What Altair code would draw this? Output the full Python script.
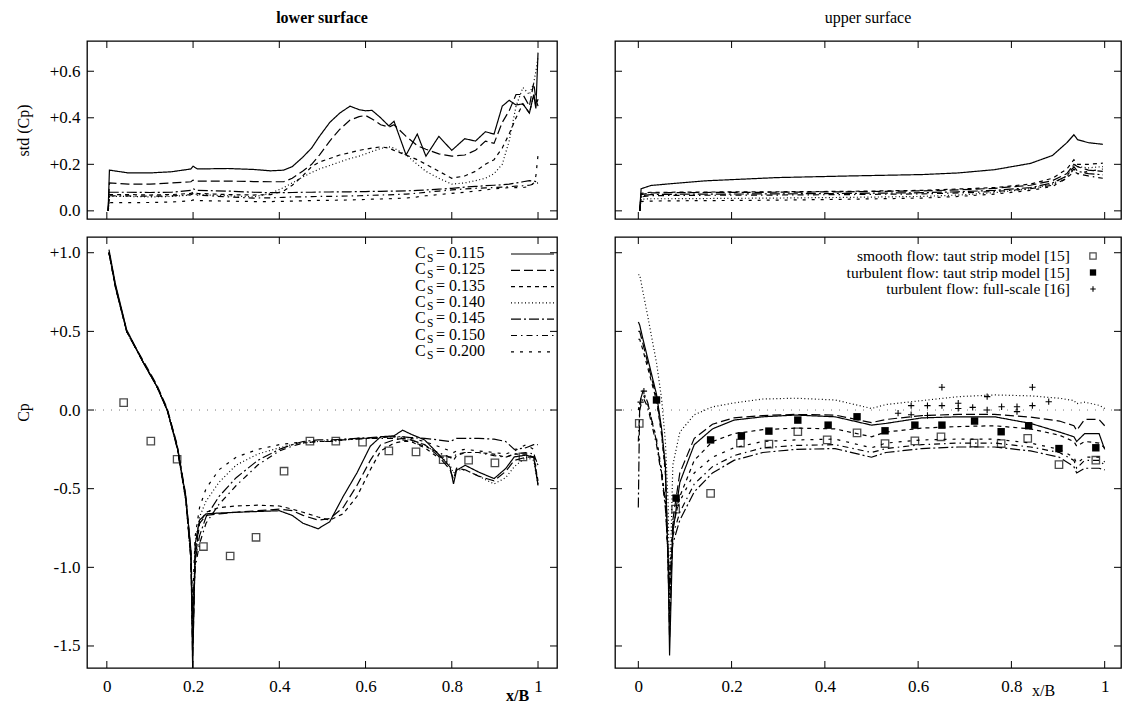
import altair as alt
import pandas as pd

FONT = "Liberation Serif"
SERIES = ["0.115", "0.125", "0.135", "0.140", "0.145", "0.150", "0.200"]
DASHES = [[1, 0], [9, 4], [4, 4], [1, 2.5], [10, 3, 2, 3], [6, 4, 1.5, 4], [3, 6]]

# ---------------- lower surface, std(Cp) ----------------
tl_x = [0.003, 0.006, 0.05, 0.1, 0.15, 0.195, 0.2, 0.21, 0.28, 0.34,
        0.38, 0.41, 0.43, 0.454, 0.475, 0.493, 0.517, 0.54, 0.564, 0.585,
        0.6, 0.615, 0.635, 0.654, 0.666, 0.694, 0.72, 0.74, 0.77, 0.8,
        0.83, 0.855, 0.878, 0.898, 0.917, 0.933, 0.949, 0.965, 0.98, 0.99,
        0.995, 1.0]
tl_115 = [0.0, 0.175, 0.163, 0.163, 0.168, 0.18, 0.192, 0.18, 0.182, 0.178,
          0.172, 0.175, 0.19, 0.23, 0.27, 0.32, 0.38, 0.42, 0.45, 0.435,
          0.43, 0.432, 0.40, 0.365, 0.385, 0.24, 0.33, 0.235, 0.32, 0.26,
          0.31, 0.30, 0.34, 0.33, 0.45, 0.475, 0.455, 0.46, 0.42, 0.5,
          0.44, 0.68]
tl_125 = [0.0, 0.12, 0.115, 0.115, 0.12, 0.125, 0.132, 0.128, 0.128, 0.126,
          0.125, 0.125, 0.14, 0.17, 0.2, 0.24, 0.3, 0.35, 0.39, 0.405,
          0.41, 0.395, 0.37, 0.36, 0.37, 0.32, 0.28, 0.265, 0.245, 0.235,
          0.24, 0.26, 0.3, 0.29, 0.38, 0.43, 0.5, 0.5, 0.45, 0.55,
          0.48, 0.45]
tl_135 = [0.0, 0.07, 0.07, 0.068, 0.07, 0.075, 0.08, 0.075, 0.07, 0.068,
          0.07, 0.085, 0.11, 0.15, 0.19, 0.21, 0.225, 0.24, 0.25, 0.26,
          0.265, 0.27, 0.275, 0.27, 0.26, 0.24, 0.22, 0.2, 0.17, 0.14,
          0.15, 0.17, 0.2, 0.22, 0.27, 0.33, 0.4, 0.46, 0.42, 0.5,
          0.45, 0.48]
tl_140 = [0.0, 0.062, 0.062, 0.06, 0.062, 0.068, 0.075, 0.07, 0.065, 0.06,
          0.075, 0.1, 0.12, 0.145, 0.165, 0.18, 0.195, 0.21, 0.225, 0.235,
          0.245, 0.255, 0.268, 0.275, 0.27, 0.24, 0.2, 0.17, 0.14, 0.115,
          0.12, 0.13, 0.14, 0.16, 0.2, 0.3, 0.45, 0.53, 0.5, 0.55,
          0.6, 0.66]
tl_145 = [0.0, 0.08, 0.08, 0.079, 0.08, 0.088, 0.095, 0.088, 0.085, 0.08,
          0.078, 0.078, 0.079, 0.08, 0.08, 0.081, 0.081, 0.082, 0.082, 0.083,
          0.083, 0.084, 0.084, 0.085, 0.085, 0.086, 0.088, 0.09, 0.093, 0.097,
          0.102, 0.105, 0.108, 0.11, 0.112, 0.115, 0.12, 0.125, 0.13, 0.128,
          0.126, 0.125]
tl_150 = [0.0, 0.065, 0.064, 0.063, 0.064, 0.07, 0.074, 0.068, 0.06, 0.055,
          0.056, 0.058, 0.06, 0.06, 0.061, 0.062, 0.062, 0.063, 0.064, 0.065,
          0.066, 0.067, 0.068, 0.069, 0.07, 0.072, 0.076, 0.08, 0.085, 0.09,
          0.094, 0.097, 0.099, 0.1, 0.102, 0.104, 0.106, 0.108, 0.11, 0.115,
          0.118, 0.12]
tl_200 = [0.0, 0.035, 0.035, 0.036, 0.038, 0.043, 0.047, 0.044, 0.042, 0.04,
          0.04, 0.041, 0.042, 0.043, 0.044, 0.045, 0.045, 0.046, 0.047, 0.048,
          0.049, 0.05, 0.051, 0.052, 0.053, 0.055, 0.06, 0.065, 0.07, 0.075,
          0.08, 0.085, 0.09, 0.095, 0.097, 0.1, 0.1, 0.1, 0.105, 0.12,
          0.15, 0.24]

# ---------------- lower surface, Cp ----------------
bl_x = [0.005, 0.02, 0.046, 0.085, 0.116, 0.14, 0.163, 0.183, 0.195, 0.199,
        0.205, 0.215, 0.23, 0.26, 0.3, 0.35, 0.4, 0.43, 0.455, 0.49,
        0.517, 0.548, 0.58, 0.611, 0.635, 0.666, 0.686, 0.705, 0.737, 0.768,
        0.796, 0.804, 0.811, 0.831, 0.862, 0.898, 0.925, 0.945, 0.972, 0.99,
        1.0]
bl_115 = [1.02, 0.8, 0.51, 0.30, 0.15, 0.0, -0.23, -0.55, -0.89, -1.64,
          -0.85, -0.70, -0.66, -0.655, -0.65, -0.645, -0.64, -0.67, -0.72, -0.755,
          -0.71, -0.55, -0.40, -0.23, -0.17, -0.164, -0.128, -0.153, -0.19, -0.277,
          -0.362, -0.47, -0.383, -0.351, -0.394, -0.436, -0.372, -0.298, -0.287, -0.3,
          -0.48]
bl_125 = [1.0, 0.78, 0.5, 0.31, 0.16, 0.01, -0.22, -0.54, -0.9, -1.6,
          -0.9, -0.72, -0.67, -0.66, -0.65, -0.64, -0.63, -0.64, -0.67, -0.70,
          -0.69, -0.62, -0.48, -0.32, -0.22, -0.19, -0.18, -0.19, -0.22, -0.29,
          -0.38, -0.44, -0.37, -0.38, -0.42, -0.45, -0.39, -0.32, -0.3, -0.3,
          -0.35]
bl_135 = [1.0, 0.79, 0.5, 0.3, 0.15, 0.0, -0.23, -0.55, -0.92, -1.5,
          -0.95, -0.72, -0.65, -0.62, -0.61, -0.605, -0.61, -0.63, -0.65, -0.68,
          -0.7, -0.66, -0.55, -0.38, -0.26, -0.21, -0.2, -0.2, -0.24, -0.3,
          -0.3, -0.32, -0.29, -0.27, -0.27, -0.28, -0.3, -0.28, -0.28, -0.3,
          -0.45]
bl_140 = [1.0, 0.79, 0.5, 0.3, 0.15, 0.0, -0.23, -0.56, -0.93, -1.4,
          -0.85, -0.68, -0.58, -0.46, -0.35, -0.28, -0.24, -0.22, -0.21, -0.2,
          -0.195, -0.19, -0.185, -0.18, -0.175, -0.17, -0.175, -0.19, -0.22, -0.28,
          -0.35, -0.4, -0.38, -0.38, -0.42, -0.47, -0.43, -0.36, -0.3, -0.32,
          -0.48]
bl_145 = [1.0, 0.78, 0.5, 0.3, 0.15, 0.0, -0.24, -0.57, -0.95, -1.3,
          -0.95, -0.8, -0.68, -0.55, -0.43, -0.32, -0.25, -0.22, -0.2, -0.19,
          -0.19, -0.185, -0.18, -0.175, -0.17, -0.17, -0.17, -0.175, -0.18, -0.19,
          -0.2, -0.19, -0.18, -0.18, -0.18, -0.185, -0.2, -0.25, -0.24, -0.22,
          -0.22]
bl_150 = [1.0, 0.78, 0.5, 0.3, 0.15, 0.0, -0.24, -0.57, -0.95, -1.35,
          -1.0, -0.85, -0.72, -0.6, -0.48, -0.35, -0.26, -0.23, -0.21, -0.2,
          -0.2, -0.19, -0.185, -0.18, -0.18, -0.18, -0.19, -0.2, -0.23, -0.27,
          -0.3, -0.3, -0.28, -0.27, -0.27, -0.29, -0.3, -0.28, -0.27, -0.28,
          -0.35]
bl_200 = [1.0, 0.79, 0.5, 0.3, 0.15, 0.0, -0.23, -0.56, -0.93, -1.2,
          -0.8, -0.62, -0.5, -0.38, -0.3, -0.25, -0.22, -0.21, -0.205, -0.2,
          -0.2, -0.19, -0.18, -0.18, -0.175, -0.17, -0.17, -0.18, -0.2, -0.23,
          -0.26, -0.27, -0.26, -0.25, -0.26, -0.27, -0.28, -0.26, -0.22, -0.25,
          -0.48]
bl_sq_x = [0.039, 0.102, 0.163, 0.224, 0.286, 0.346, 0.411, 0.471, 0.531, 0.593,
           0.654, 0.717, 0.78, 0.839, 0.9, 0.965]
bl_sq_y = [0.047, -0.198, -0.313, -0.868, -0.928, -0.809, -0.389, -0.198, -0.198, -0.204,
           -0.26, -0.266, -0.315, -0.319, -0.336, -0.298]

# ---------------- upper surface, std(Cp) ----------------
tr_x = [0.003, 0.006, 0.027, 0.066, 0.143, 0.298, 0.453, 0.609, 0.686, 0.764,
        0.841, 0.888, 0.919, 0.934, 0.942, 0.965, 0.996]
tr_115 = [0.0, 0.095, 0.109, 0.116, 0.129, 0.143, 0.15, 0.156, 0.163, 0.177,
          0.204, 0.238, 0.293, 0.327, 0.306, 0.293, 0.286]
tr_125 = [0.0, 0.07, 0.077, 0.078, 0.079, 0.08, 0.082, 0.086, 0.09, 0.097,
          0.11, 0.13, 0.16, 0.2, 0.19, 0.175, 0.17]
tr_135 = [0.0, 0.075, 0.08, 0.08, 0.081, 0.082, 0.084, 0.088, 0.094, 0.1,
          0.115, 0.14, 0.18, 0.22, 0.2, 0.2, 0.205]
tr_140 = [0.0, 0.05, 0.052, 0.052, 0.053, 0.055, 0.058, 0.062, 0.068, 0.078,
          0.095, 0.115, 0.15, 0.2, 0.19, 0.185, 0.19]
tr_145 = [0.0, 0.065, 0.07, 0.071, 0.072, 0.073, 0.075, 0.078, 0.082, 0.088,
          0.1, 0.12, 0.15, 0.19, 0.17, 0.16, 0.155]
tr_150 = [0.0, 0.06, 0.065, 0.066, 0.067, 0.068, 0.07, 0.073, 0.077, 0.083,
          0.095, 0.11, 0.14, 0.18, 0.16, 0.15, 0.14]
tr_200 = [0.0, 0.04, 0.042, 0.043, 0.044, 0.046, 0.05, 0.055, 0.062, 0.072,
          0.088, 0.105, 0.14, 0.17, 0.16, 0.17, 0.18]

# ---------------- upper surface, Cp ----------------
br_x = [0.0, 0.003, 0.01, 0.02, 0.039, 0.05, 0.058, 0.064, 0.067, 0.074,
        0.089, 0.12, 0.159, 0.205, 0.267, 0.337, 0.422, 0.5, 0.531, 0.608,
        0.686, 0.764, 0.841, 0.903, 0.934, 0.94, 0.957, 0.988, 1.0]
br_115 = [0.56, 0.54, 0.45, 0.33, 0.1, -0.12, -0.35, -0.99, -1.56, -0.78,
          -0.46, -0.22, -0.12, -0.064, -0.043, -0.032, -0.043, -0.096, -0.085, -0.05,
          -0.043, -0.043, -0.085, -0.14, -0.17, -0.2, -0.15, -0.15, -0.25]
br_125 = [0.5, 0.5, 0.42, 0.3, 0.08, -0.14, -0.38, -1.0, -1.45, -0.7,
          -0.4, -0.18, -0.09, -0.05, -0.035, -0.028, -0.032, -0.08, -0.06, -0.035,
          -0.028, -0.028, -0.045, -0.07, -0.1, -0.13, -0.06, -0.06, -0.1]
br_135 = [0.45, 0.45, 0.38, 0.27, 0.06, -0.16, -0.4, -1.0, -1.3, -0.75,
          -0.55, -0.32, -0.2, -0.15, -0.125, -0.115, -0.12, -0.17, -0.14, -0.115,
          -0.105, -0.1, -0.12, -0.16, -0.2, -0.23, -0.2, -0.21, -0.24]
br_140 = [0.86, 0.86, 0.75, 0.6, 0.3, 0.07, -0.2, -0.6, -1.2, -0.35,
          -0.14, -0.03, 0.02, 0.045, 0.07, 0.075, 0.064, 0.01, 0.035, 0.06,
          0.085, 0.096, 0.09, 0.075, 0.06, 0.04, 0.05, 0.03, 0.01]
br_145 = [-0.62, 0.05, 0.12, 0.05, -0.2, -0.4, -0.6, -0.9, -1.1, -0.85,
          -0.7, -0.52, -0.4, -0.32, -0.27, -0.25, -0.245, -0.3, -0.27, -0.245,
          -0.235, -0.235, -0.26, -0.3, -0.36, -0.4, -0.37, -0.37, -0.38]
br_150 = [-0.2, 0.0, 0.08, 0.02, -0.22, -0.42, -0.62, -0.92, -1.15, -0.8,
          -0.65, -0.47, -0.36, -0.29, -0.24, -0.225, -0.22, -0.27, -0.245, -0.22,
          -0.21, -0.21, -0.235, -0.27, -0.32, -0.37, -0.32, -0.32, -0.35]
br_200 = [0.0, 0.05, 0.1, 0.04, -0.18, -0.38, -0.58, -0.95, -1.05, -0.72,
          -0.58, -0.4, -0.3, -0.24, -0.2, -0.19, -0.185, -0.24, -0.21, -0.19,
          -0.185, -0.185, -0.21, -0.25, -0.3, -0.34, -0.3, -0.3, -0.33]

smooth_x = [0.002, 0.08, 0.155, 0.219, 0.28, 0.342, 0.405, 0.469, 0.529, 0.593,
            0.649, 0.72, 0.778, 0.835, 0.902, 0.981]
smooth_y = [-0.085, -0.63, -0.53, -0.21, -0.217, -0.138, -0.19, -0.145, -0.213, -0.196,
            -0.17, -0.21, -0.213, -0.18, -0.347, -0.319]
turb_x = [0.039, 0.081, 0.155, 0.221, 0.28, 0.342, 0.407, 0.469, 0.529, 0.593,
          0.651, 0.721, 0.778, 0.837, 0.902, 0.981]
turb_y = [0.064, -0.56, -0.19, -0.164, -0.134, -0.064, -0.096, -0.043, -0.132, -0.096,
          -0.096, -0.07, -0.138, -0.1, -0.245, -0.24]
full_x = [0.005, 0.012, 0.557, 0.585, 0.585, 0.62, 0.62, 0.651, 0.651, 0.686,
          0.686, 0.717, 0.748, 0.748, 0.779, 0.812, 0.812, 0.845, 0.845, 0.88]
full_y = [0.05, 0.12, -0.02, 0.028, -0.03, 0.028, -0.035, 0.145, 0.028, 0.043,
          0.01, 0.017, 0.085, 0.0, 0.021, 0.021, -0.01, 0.145, 0.028, 0.053]

legend_labels = ["0.115", "0.125", "0.135", "0.140", "0.145", "0.150", "0.200"]
ref_labels = ["smooth flow: taut strip model [15]",
              "turbulent flow: taut strip model [15]",
              "turbulent flow: full-scale [16]"]

x_ticks = [0, 0.2, 0.4, 0.6, 0.8, 1]
std_ticks = [0.0, 0.2, 0.4, 0.6]
cp_ticks = [1.0, 0.5, 0.0, -0.5, -1.0, -1.5]


def to_long(xs, cols):
    rows = []
    for s, ys in zip(SERIES, cols):
        assert len(ys) == len(xs), (s, len(ys), len(xs))
        for x, y in zip(xs, ys):
            rows.append({"series": s, "x": x, "y": y})
    return pd.DataFrame(rows)


YLAB = "(datum.value < 0 ? '-' : (datum.value > 0 ? '+' : '')) + format(abs(datum.value), '.1f')"
XLAB = "datum.value == 0 ? '0' : (datum.value == 1 ? '1' : format(datum.value, '.1f'))"

LW, RW = 470, 506
TH, BH = 178, 431
L_XDOM = [-0.046, 1.044]
R_XDOM = [-0.05, 1.035]
STD_DOM = [-0.035, 0.73]
CP_DOM = [-1.64, 1.1]
TICK = 7
LABEL_SIZE = 17


def panel(df, w, h, xdom, ydom, yticks, xaxis, yaxis, extra=None, zero=False, title=None):
    X = alt.X("x:Q", scale=alt.Scale(domain=xdom, nice=False, zero=False), axis=xaxis)
    Y = alt.Y("y:Q", scale=alt.Scale(domain=ydom, nice=False, zero=False), axis=yaxis)
    layers = []
    if zero:
        layers.append(alt.Chart(pd.DataFrame({"y": [0.0]})).mark_rule(
            color="#777", strokeWidth=1, strokeDash=[1, 7]).encode(
            y=Y, x=alt.value(0), x2=alt.value(w)))
    layers.append(alt.Chart(df).mark_line(color="black", strokeWidth=1.2, clip=True).encode(
        x=X, y=Y,
        strokeDash=alt.StrokeDash("series:N", scale=alt.Scale(domain=SERIES, range=DASHES), legend=None),
        detail="series:N",
        order="x:Q"))
    xt = pd.DataFrame({"x": x_ticks})
    yt = pd.DataFrame({"y": yticks})
    layers.append(alt.Chart(xt).mark_rule(color="black", strokeWidth=1).encode(
        x=X, y=alt.value(h), y2=alt.value(h - TICK)))
    layers.append(alt.Chart(xt).mark_rule(color="black", strokeWidth=1).encode(
        x=X, y=alt.value(0), y2=alt.value(TICK)))
    layers.append(alt.Chart(yt).mark_rule(color="black", strokeWidth=1).encode(
        y=Y, x=alt.value(0), x2=alt.value(TICK)))
    layers.append(alt.Chart(yt).mark_rule(color="black", strokeWidth=1).encode(
        y=Y, x=alt.value(w), x2=alt.value(w - TICK)))
    if extra:
        for e in extra(X, Y):
            layers.append(e)
    ch = alt.layer(*layers).properties(width=w, height=h)
    if title is not None:
        ch = ch.properties(title=title)
    return ch


def left_yaxis(title, title_y=None):
    kw = dict(labelExpr=YLAB, ticks=False, domain=False, grid=False,
              title=title, labelFont=FONT, labelFontSize=LABEL_SIZE, titleFont=FONT,
              titleFontSize=16, titleFontWeight="normal", labelPadding=7,
              titlePadding=18, labelColor="black", titleColor="black")
    if title_y is not None:
        kw["titleY"] = title_y
    return kw


tl_df = to_long(tl_x, [tl_115, tl_125, tl_135, tl_140, tl_145, tl_150, tl_200])
bl_df = to_long(bl_x, [bl_115, bl_125, bl_135, bl_140, bl_145, bl_150, bl_200])
tr_df = to_long(tr_x, [tr_115, tr_125, tr_135, tr_140, tr_145, tr_150, tr_200])
br_df = to_long(br_x, [br_115, br_125, br_135, br_140, br_145, br_150, br_200])

# ---- top left
TL = panel(tl_df, LW, TH, L_XDOM, STD_DOM, std_ticks, None,
           alt.Axis(values=std_ticks, **left_yaxis("std (Cp)")),
           title=alt.TitleParams("lower surface", font=FONT, fontSize=16, fontWeight="bold",
                                 color="black", offset=15))

# ---- top right
TR = panel(tr_df, RW, TH, R_XDOM, STD_DOM, std_ticks, None, None,
           title=alt.TitleParams("upper surface", font=FONT, fontSize=16, fontWeight="normal",
                                 color="black", offset=15))


# ---- bottom left
def bl_extra(X, Y):
    out = [alt.Chart(pd.DataFrame({"x": bl_sq_x, "y": bl_sq_y})).mark_square(
        filled=False, color="black", size=55, strokeWidth=1.3).encode(x=X, y=Y)]
    x0, y0, dy = 328, 16, 16.3
    for i, (s, lab) in enumerate(zip(SERIES, legend_labels)):
        yy = y0 + i * dy
        out.append(alt.Chart(pd.DataFrame({"t": ["C"]})).mark_text(
            font=FONT, fontSize=16, align="left", baseline="middle", color="black").encode(
            text="t:N", x=alt.value(x0), y=alt.value(yy)))
        out.append(alt.Chart(pd.DataFrame({"t": ["S"]})).mark_text(
            font=FONT, fontSize=11.5, align="left", baseline="middle", color="black").encode(
            text="t:N", x=alt.value(x0 + 12), y=alt.value(yy + 5.5)))
        out.append(alt.Chart(pd.DataFrame({"t": ["= " + lab]})).mark_text(
            font=FONT, fontSize=16, align="left", baseline="middle", color="black").encode(
            text="t:N", x=alt.value(x0 + 21), y=alt.value(yy)))
        out.append(alt.Chart(pd.DataFrame({"s": [s]})).mark_rule(
            color="black", strokeWidth=1.2).encode(
            x=alt.value(x0 + 96), x2=alt.value(x0 + 139), y=alt.value(yy + 1),
            strokeDash=alt.value(DASHES[i])))
    return out


BL = panel(bl_df, LW, BH, L_XDOM, CP_DOM, cp_ticks,
           alt.Axis(values=x_ticks, labelExpr=XLAB, ticks=False, domain=False, grid=False,
                    title="x/B", titleX=430, titleY=19, titleBaseline="top",
                    titleFontWeight="bold", labelFont=FONT, labelFontSize=LABEL_SIZE, titleFont=FONT,
                    titleFontSize=16, labelPadding=10, labelColor="black", titleColor="black"),
           alt.Axis(values=cp_ticks, **left_yaxis("Cp", title_y=175)),
           extra=bl_extra, zero=True)


# ---- bottom right
PLUS = "M-1,0H1M0,-1V1"


def br_extra(X, Y):
    out = [
        alt.Chart(pd.DataFrame({"x": smooth_x, "y": smooth_y})).mark_square(
            filled=False, color="black", size=55, strokeWidth=1.3).encode(x=X, y=Y),
        alt.Chart(pd.DataFrame({"x": turb_x, "y": turb_y})).mark_square(
            filled=True, color="black", size=55, opacity=1).encode(x=X, y=Y),
        alt.Chart(pd.DataFrame({"x": full_x, "y": full_y})).mark_point(
            shape=PLUS, filled=False, color="black", size=40, strokeWidth=1.1, opacity=1).encode(x=X, y=Y),
    ]
    tx, sx, y0, dy = 455, 478, 19, 16.5
    for i, lab in enumerate(ref_labels):
        yy = y0 + i * dy
        out.append(alt.Chart(pd.DataFrame({"t": [lab]})).mark_text(
            font=FONT, fontSize=15.5, align="right", baseline="middle", color="black").encode(
            text="t:N", x=alt.value(tx), y=alt.value(yy)))
    out.append(alt.Chart(pd.DataFrame({"t": ["a"]})).mark_square(
        filled=False, color="black", size=40, strokeWidth=1.2).encode(
        x=alt.value(sx), y=alt.value(y0)))
    out.append(alt.Chart(pd.DataFrame({"t": ["b"]})).mark_square(
        filled=True, color="black", size=40, opacity=1).encode(
        x=alt.value(sx), y=alt.value(y0 + dy)))
    out.append(alt.Chart(pd.DataFrame({"t": ["c"]})).mark_point(
        shape=PLUS, filled=False, color="black", size=30, strokeWidth=1.1, opacity=1).encode(
        x=alt.value(sx), y=alt.value(y0 + 2 * dy)))
    return out


BR = panel(br_df, RW, BH, R_XDOM, CP_DOM, cp_ticks,
           alt.Axis(values=x_ticks, labelExpr=XLAB, ticks=False, domain=False, grid=False,
                    title="x/B", titleX=428, titleY=14, titleBaseline="top",
                    titleFontWeight="normal", labelFont=FONT, labelFontSize=LABEL_SIZE, titleFont=FONT,
                    titleFontSize=16, labelPadding=10, labelColor="black", titleColor="black"),
           None, extra=br_extra, zero=True)

chart = alt.concat(TL, TR, BL, BR, columns=2, spacing={"row": 14, "column": 54}).properties(
    padding={"left": 14, "top": 8, "right": 2, "bottom": 2},
    background="white",
).configure_view(stroke="black", strokeWidth=1.3).configure_text(font=FONT)

chart.save("out.html", embed_options={"renderer": "svg", "actions": False})
